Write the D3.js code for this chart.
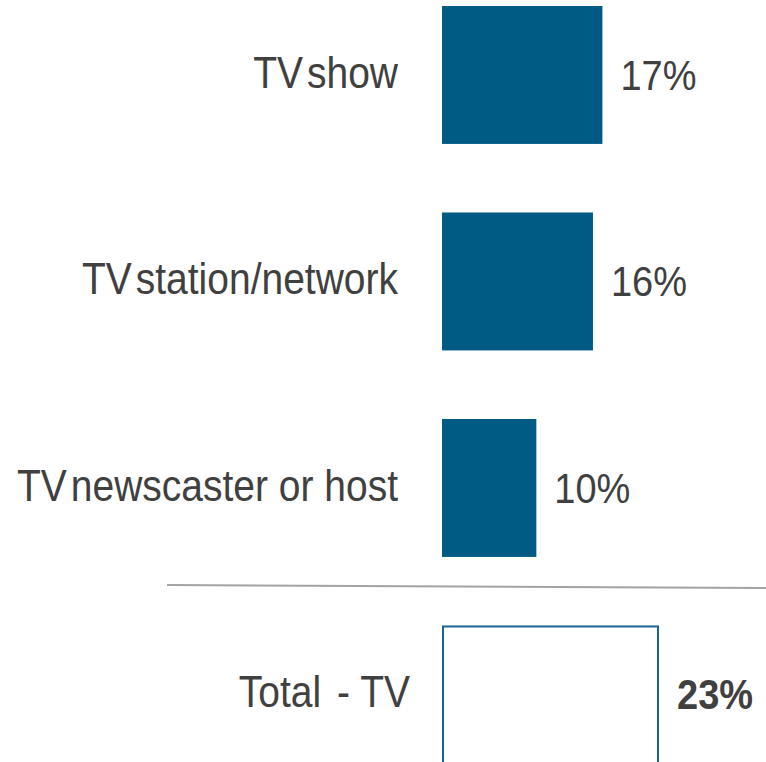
<!DOCTYPE html>
<html>
<head>
<meta charset="utf-8">
<script src="https://cdn.jsdelivr.net/npm/d3@7"></script>
<style>
  body { margin: 0; background: #fff; }
  text { font-family: Arial, "Liberation Sans", sans-serif; fill: #404040; }
</style>
</head>
<body>
<svg width="766" height="762"></svg>
<script>
// categories and values
var categories = ["TV show", "TV station/network", "TV newscaster or host", "Total - TV"];
var values = [17, 16, 10, 23];
var valueLabels = ["17%", "16%", "10%", "23%"];

var svg = d3.select("svg"),
  width = +svg.attr("width"),
  height = +svg.attr("height");

var x = d3.scaleLinear().domain([0, 23]).range([442, 659]);
var y = d3.scaleBand().domain(categories).range([-28.3, 797.7])
  .paddingInner(0.332).paddingOuter(0.166);

var rows = categories.map(function(c, i) {
  return { name: c, value: values[i], label: valueLabels[i], total: i === categories.length - 1 };
});

// separator above the total row
svg.append("line")
  .attr("x1", 167).attr("y1", 585)
  .attr("x2", width).attr("y2", 588)
  .attr("stroke", "#a3a3a3")
  .attr("stroke-width", 2);

svg.selectAll(".bar")
  .data(rows)
  .enter().append("rect")
  .attr("class", "bar")
  .attr("x", function(d) { return x(0) + (d.total ? 1 : 0); })
  .attr("y", function(d) { return y(d.name) + (d.total ? 1 : 0); })
  .attr("width", function(d) { return x(d.value) - x(0) - (d.total ? 2 : 0); })
  .attr("height", y.bandwidth())
  .attr("fill", function(d) { return d.total ? "#fff" : "#005b84"; })
  .attr("stroke", function(d) { return d.total ? "#1a6491" : "none"; })
  .attr("stroke-width", 2);

// category labels, slightly stretched vertically like the original
var cat = svg.selectAll(".cat")
  .data(rows)
  .enter().append("text")
  .attr("class", "cat")
  .attr("text-anchor", "end")
  .attr("font-size", 39)
  .attr("transform", function(d) {
    var cx = d.total ? 410 : 398;
    return "translate(" + cx + "," + (y(d.name) + y.bandwidth() / 2 + 13) + ") scale(1,1.12)";
  });

cat.each(function(d) {
  var t = d3.select(this);
  if (d.total) {
    var parts = d.name.split(" - ");
    t.append("tspan").text(parts[0]);
    t.append("tspan").attr("dx", 16).text("- " + parts[1]);
    return;
  }
  var first = d.name.split(" ")[0];
  t.append("tspan").text(first);
  t.append("tspan").attr("dx", 4).text(d.name.slice(first.length + 1));
});

svg.selectAll(".val")
  .data(rows)
  .enter().append("text")
  .attr("class", "val")
  .attr("font-size", 38)
  .attr("font-weight", function(d) { return d.total ? "bold" : "normal"; })
  .attr("transform", function(d) {
    return "translate(" + (x(d.value) + 18) + "," + (y(d.name) + y.bandwidth() / 2 + 15) + ") scale(1,1.14)";
  })
  .text(function(d) { return d.label; });
</script>
</body>
</html>
